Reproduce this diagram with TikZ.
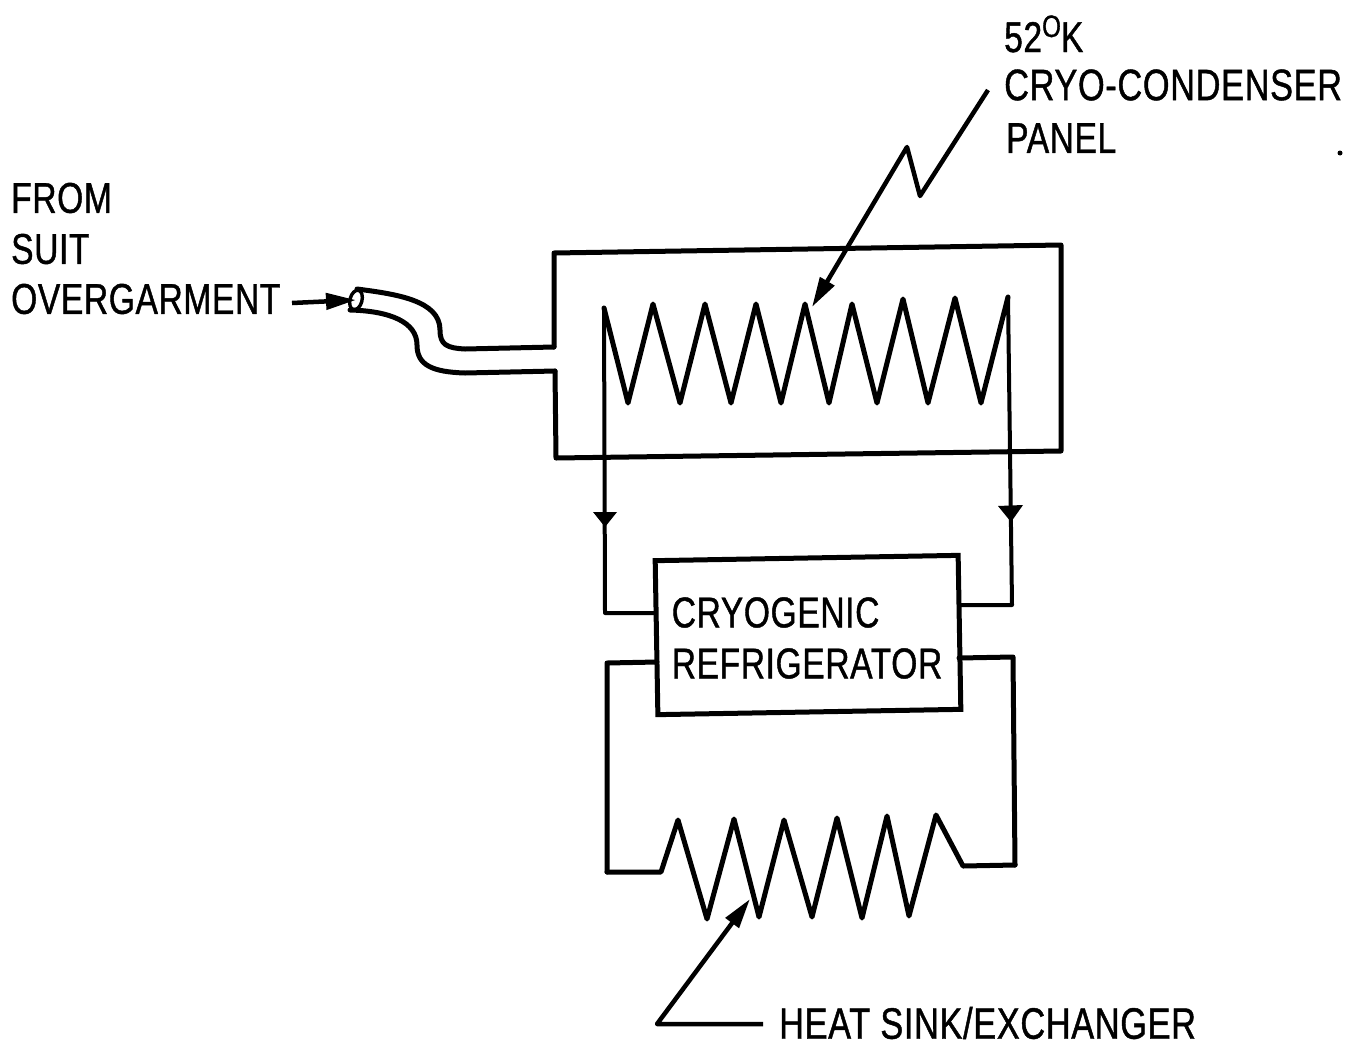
\documentclass[tikz,border=0pt]{standalone}
\usepackage{fontspec}
\setmainfont[FakeStretch=0.78,LetterSpace=1.5,FakeBold=1]{Liberation Sans}
\usetikzlibrary{arrows.meta,positioning,calc}
\begin{document}
\begin{tikzpicture}[
    x=1pt,y=-1pt,
    wire/.style={line width=5pt, line join=round, line cap=round},
    thin wire/.style={line width=4pt, line join=round},
    arrow/.style={-{Triangle[length=30pt,width=16pt]}, line width=4.5pt, line join=round},
    label/.style={font=\fontsize{43}{48}\selectfont, align=left, inner sep=0pt, anchor=west},
  ]
    \useasboundingbox (0,0) rectangle (1362,1047);
    % panel and refrigerator
    \draw[wire] (554,347) -- (554,253) -- (1061,245) -- (1061,451) -- (556,458) -- (555,371);
    \node[draw, line width=5pt, rotate=1, minimum width=303pt, minimum height=154pt, inner sep=0pt] (fridge) at (808,635) {};
    \node[font=\fontsize{43}{51}\selectfont, align=left, inner sep=0pt] (fridgetext) at (807,638) {CRYOGENIC\\REFRIGERATOR};

    % coils
    \coordinate (coilin) at (604,308);
    \coordinate (coilout) at (1008,297);
    \draw[wire] (coilin) -- (628,403) -- (653,304) -- (680,403) -- (705,304) -- (731,403) -- (756,304) -- (781,403) -- (805,304) -- (829,403) -- (852,304) -- (877,403) -- (903,299) -- (928,403) -- (955,298) -- (981,403) -- (coilout);
    \coordinate (sinkleft) at (607,872);
    \coordinate (sinkright) at (1015,865);
    \draw[wire] (sinkleft) -- (661,872) -- (678,820) -- (707,919) -- (734,819) -- (759,917) -- (784,820) -- (812,917) -- (837,818) -- (862,918) -- (887,816) -- (909,916) -- (936,815) -- (963,866) -- (sinkright);

    % loop wires
    \coordinate (aL) at (657,613);
    \coordinate (aR) at (959,605);
    \coordinate (bL) at (657,662);
    \coordinate (bR) at (959,658);
    \draw[thin wire] (coilin) -- (605,613) -- (aL);
    \draw[thin wire] (coilout) -- (1012,605) -- (aR);
    \draw[wire] (bL) -- (607,663) -- (sinkleft);
    \draw[wire] (bR) -- (1013,657) -- (sinkright);
    \coordinate (tipL) at (605,527);
    \coordinate (tipR) at (1011,522);
    \fill (593,512) -- (617,512) -- (tipL) -- cycle;
    \fill (998,506) -- (1023,505) -- (tipR) -- cycle;

    % duct
    \coordinate (ductend) at (356,300);
    \draw[wire] (357,289) .. controls (395,294) and (440,300) .. (440,330) .. controls (440,345) and (447,348) .. (465,349) -- (554,347);
    \draw[wire] (350,310) .. controls (390,311) and (417,322) .. (417,345) .. controls (417,365) and (432,372) .. (465,373) -- (555,371);
    \draw[line width=3.4pt, rotate around={-15:(ductend)}] (ductend) ellipse (6pt and 10pt);
    \coordinate (fromtail) at (292,303);
    \draw[arrow] (fromtail) -- (ductend);

    % labels
    \node[label] (from) at (11,198) {FROM};
    \node[label] (suit) at (11,249) {SUIT};
    \node[label] (over) at (11,299) {OVERGARMENT};
    \node[label, anchor=base west] (temp) at (1004,52) {52\raisebox{15pt}{\fontsize{31}{31}\selectfont O}K};
    \node[label, font=\fontsize{44}{48}\selectfont] (cryo) at (1004,85) {CRYO-CONDENSER};
    \node[label] (panel) at (1006,138) {PANEL};
    \node[label, font=\fontsize{44}{48}\selectfont] (sink) at (779,1023) {HEAT SINK/EXCHANGER};

    % leaders
    \coordinate (leadtop) at (988,90);
    \coordinate (leadtip) at (812,307);
    \draw[arrow] (leadtop) -- (920,196) -- (907,147) -- (leadtip);
    \coordinate (leadfoot) at (763,1024);
    \coordinate (leadbend) at (657,1024);
    \coordinate (sinktip) at (750,899);
    \draw[arrow] (leadfoot) -- (leadbend) -- (sinktip);
    \fill (1340,153) circle (2.5pt);
  \end{tikzpicture}
\end{document}
